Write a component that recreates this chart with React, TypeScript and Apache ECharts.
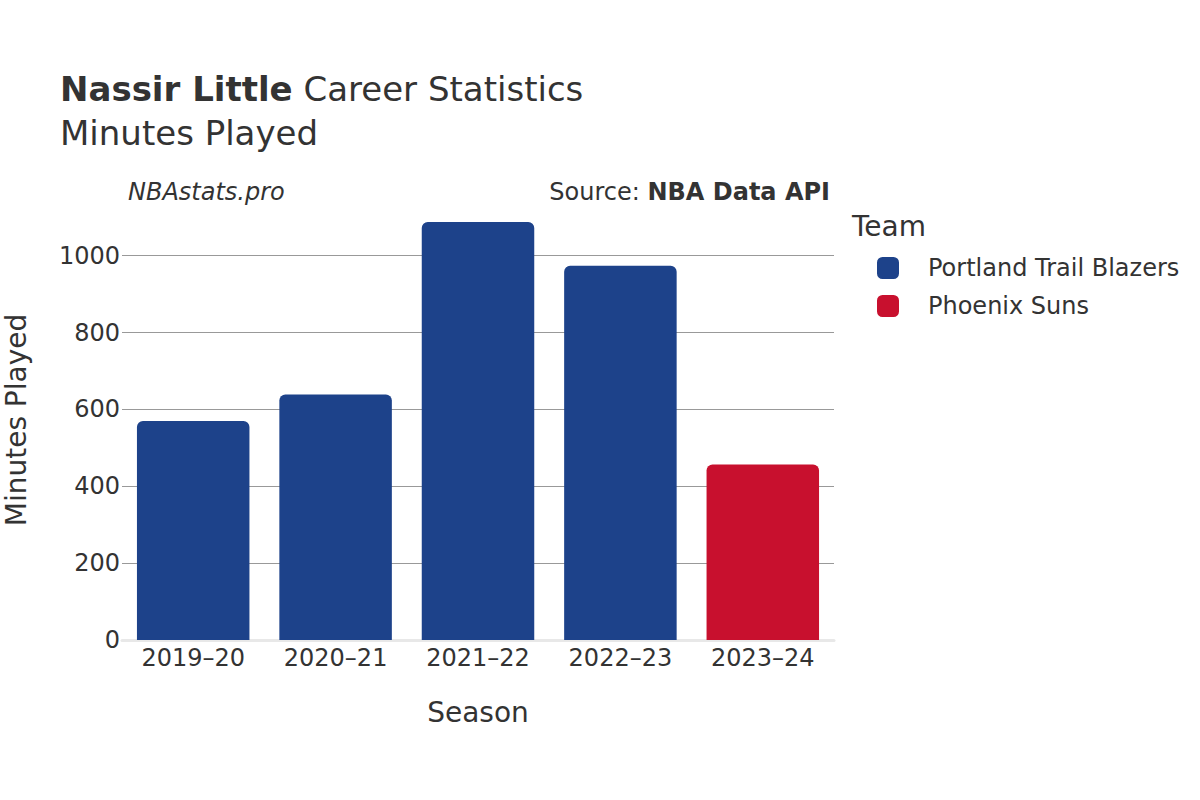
import React, { useEffect, useRef } from "react";
import * as echarts from "echarts";

const seasons = ["2019–20", "2020–21", "2021–22", "2022–23", "2023–24"];
const portland = [570, 639, 1088, 974, null];
const phoenix = [null, null, null, null, 457];
const yTicks = [0, 200, 400, 600, 800, 1000];

const FONT = "DejaVu Sans";

export default function App() {
  const ref = useRef<HTMLDivElement>(null);
  useEffect(() => {
    if (!ref.current) return;
    const chart = echarts.init(ref.current, undefined, { renderer: "svg" });
    chart.setOption({
      animation: false,
      textStyle: { fontFamily: FONT },
      title: {
        left: 60,
        top: 67,
        padding: 0,
        text: "{b|Nassir Little} {n|Career Statistics}\n{n|Minutes Played}",
        textStyle: {
          fontWeight: "normal",
          fontSize: 34,
          rich: {
            b: { fontFamily: FONT, fontSize: 34, fontWeight: "bold", color: "#333", lineHeight: 44 },
            n: { fontFamily: FONT, fontSize: 34, fontWeight: "normal", color: "#333", lineHeight: 44 },
          },
        },
      },
      graphic: [
        {
          type: "text",
          left: 128,
          top: 180,
          style: { text: "NBAstats.pro", font: `italic 24px "${FONT}"`, fill: "#333" },
        },
        {
          type: "text",
          right: 370,
          top: 180,
          style: {
            text: "Source: {b|NBA Data API}",
            font: `24px "${FONT}"`,
            fill: "#333",
            rich: { b: { fontWeight: "bold", fontSize: 24, fontFamily: FONT, fill: "#333" } },
          },
        },
        {
          type: "text",
          left: 852,
          top: 212,
          style: { text: "Team", font: `28px "${FONT}"`, fill: "#333" },
        },
      ],
      legend: {
        orient: "vertical",
        left: 877,
        top: 256,
        padding: 0,
        itemWidth: 22,
        itemHeight: 22,
        itemGap: 14,
        icon: "roundRect",
        textStyle: { fontFamily: FONT, fontSize: 24, color: "#333", padding: [0, 0, 0, 24] },
        data: ["Portland Trail Blazers", "Phoenix Suns"],
      },
      grid: { left: 122, right: 366, top: 200, bottom: 160, containLabel: false, outerBoundsMode: "none" },
      xAxis: {
        type: "category",
        data: seasons,
        name: "Season",
        nameLocation: "middle",
        nameGap: 58,
        nameTextStyle: { fontFamily: FONT, fontSize: 28, color: "#333" },
        axisLine: { show: true, lineStyle: { color: "#e8e8e8", width: 3 } },
        axisTick: { show: false },
        axisLabel: { fontFamily: FONT, fontSize: 24, color: "#333", margin: 6 },
      },
      yAxis: {
        type: "value",
        min: 0,
        max: 1145,
        interval: 200,
        name: "Minutes Played",
        nameLocation: "middle",
        nameGap: 92,
        nameTextStyle: { fontFamily: FONT, fontSize: 28, color: "#333" },
        axisLine: { show: false },
        axisTick: { show: false },
        axisLabel: {
          fontFamily: FONT,
          fontSize: 24,
          color: "#333",
          margin: 2,
          showMaxLabel: false,
          formatter: (v: number) => (yTicks.includes(v) ? String(v) : ""),
        },
        splitLine: { show: true, showMinLine: false, showMaxLine: false, lineStyle: { color: "#999", width: 1 } },
      },
      series: [
        {
          name: "Portland Trail Blazers",
          type: "bar",
          stack: "t",
          data: portland,
          barCategoryGap: "21%",
          itemStyle: { color: "#1d428a", borderRadius: [6, 6, 0, 0] },
        },
        {
          name: "Phoenix Suns",
          type: "bar",
          stack: "t",
          data: phoenix,
          barCategoryGap: "21%",
          itemStyle: { color: "#c8102e", borderRadius: [6, 6, 0, 0] },
        },
      ],
    });
    return () => chart.dispose();
  }, []);
  return (
    <div
      ref={ref}
      style={{ position: "absolute", left: 0, top: 0, width: 1200, height: 800 }}
    />
  );
}
